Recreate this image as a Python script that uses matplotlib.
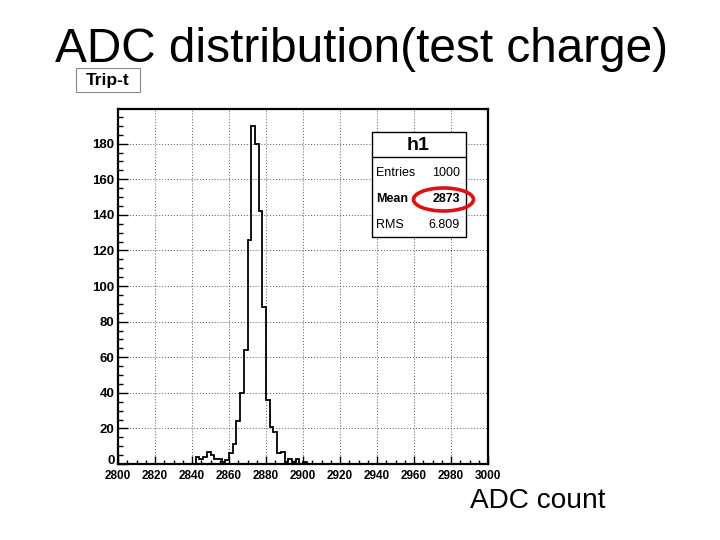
import matplotlib
matplotlib.use('Agg')
import matplotlib.pyplot as plt
import numpy as np
from matplotlib.patches import Rectangle, Ellipse
from matplotlib.lines import Line2D

# ---------------- data ----------------
x_min, x_max, bin_width = 2800, 3000, 2
first_filled_bin = 2842
counts = [4, 3, 4, 7, 5, 3, 3, 1, 2, 6,
          11, 24, 40, 64, 126, 190, 180, 142, 88, 36,
          21, 18, 6, 7, 1, 3, 1, 3, 0, 1]
x_ticks = [2800, 2820, 2840, 2860, 2880, 2900, 2920, 2940, 2960, 2980, 3000]
y_ticks = [0, 20, 40, 60, 80, 100, 120, 140, 160, 180]
y_max = 199.5
title_text = "ADC distribution(test charge)"
hist_title = "Trip-t"
stats_name = "h1"
stats_labels = ["Entries", "Mean", "RMS"]
stats_values = ["1000", "2873", "6.809"]
xlabel_text = "ADC count"

edges = np.arange(x_min, x_max + bin_width, bin_width)
values = np.zeros(len(edges) - 1)
start = (first_filled_bin - x_min) // bin_width
values[start:start + len(counts)] = counts

# ---------------- figure ----------------
W, H = 720, 540
fig = plt.figure(figsize=(7.2, 5.4), dpi=100)
fig.patch.set_facecolor('white')

def fx(x):
    return x / W

def fy(y):
    return 1 - y / H

ax = fig.add_axes([fx(118), fy(464), fx(488) - fx(118), fy(109) - fy(464)])
ax.stairs(values, edges, baseline=0, color='black', lw=1.3)
ax.set_xlim(x_min, x_max)
ax.set_ylim(0, y_max)
ax.set_xticks(x_ticks)
ax.set_yticks(y_ticks)
ax.set_xticks(np.arange(x_min, x_max + 1, 5), minor=True)
ax.set_yticks(np.arange(0, 200, 5), minor=True)
ax.grid(True, which='major', color='#555555', linestyle=(0, (1, 2)), lw=0.7)
ax.set_axisbelow(True)
ax.tick_params(which='both', direction='in', top=False, right=False, color='black')
ax.tick_params(which='major', axis='x', length=6, width=1)
ax.tick_params(which='minor', axis='x', length=3, width=1)
ax.tick_params(which='major', axis='y', length=7, width=1)
ax.tick_params(which='minor', axis='y', length=3.5, width=1)
ax.tick_params(axis='x', pad=4)
ax.tick_params(axis='y', pad=2.5)
for lab in ax.get_xticklabels():
    lab.set_fontfamily('Liberation Sans')
    lab.set_fontweight('bold')
    lab.set_fontsize(8.5)
ylabs = ax.get_yticklabels()
for lab in ylabs:
    lab.set_fontfamily('Liberation Sans')
    lab.set_fontweight('bold')
    lab.set_fontsize(9.5)
ylabs[0].set_verticalalignment('baseline')
for s in ax.spines.values():
    s.set_linewidth(1.6)
    s.set_color('black')

# ---------------- title ----------------
renderer = fig.canvas.get_renderer()
t = fig.text(fx(55), fy(62), title_text, fontsize=34, family='Liberation Sans',
             ha='left', va='baseline', color='black')
bb = t.get_window_extent(renderer)
t.set_fontsize(34 * 613 / bb.width)

# histogram title box
fig.patches.append(Rectangle((fx(76), fy(92)), fx(140) - fx(76), fy(68) - fy(92),
                             transform=fig.transFigure, facecolor='white',
                             edgecolor='#888888', lw=0.8))
fig.text(fx(108), fy(80), hist_title, fontsize=12.5, family='Liberation Sans',
         fontweight='bold', ha='center', va='center')

# ---------------- stats box ----------------
bx0, bx1, by0, by1 = 372, 466, 132, 237
fig.patches.append(Rectangle((fx(bx0), fy(by1)), fx(bx1) - fx(bx0), fy(by0) - fy(by1),
                             transform=fig.transFigure, facecolor='white',
                             edgecolor='black', lw=1.0, zorder=5))
fig.lines.append(Line2D([fx(bx0), fx(bx1)], [fy(157), fy(157)],
                        transform=fig.transFigure, color='black', lw=1.0, zorder=6))
fig.text(fx(418), fy(146), stats_name, fontsize=14, family='Liberation Sans',
         fontweight='bold', ha='center', va='center', zorder=7)
row_y = [173, 199.5, 225]
weights = ['normal', 'bold', 'normal']
for lab, val, yy, w in zip(stats_labels, stats_values, row_y, weights):
    fig.text(fx(376), fy(yy), lab, fontsize=9, family='Liberation Sans',
             fontweight=w, ha='left', va='center', zorder=7)
    fig.text(fx(460), fy(yy), val, fontsize=9, family='Liberation Sans',
             fontweight=w, ha='right', va='center', zorder=7)

fig.patches.append(Ellipse((fx(443.5), fy(199.5)), 60 / W, 23 / H,
                           transform=fig.transFigure, fill=False,
                           edgecolor='#e01010', lw=2.6, zorder=8))

# ---------------- x label ----------------
xl = fig.text(fx(470), fy(508), xlabel_text, fontsize=20, family='Liberation Sans',
              ha='left', va='baseline', color='black')
bb = xl.get_window_extent(renderer)
xl.set_fontsize(20 * 135 / bb.width)

fig.savefig('out.png', dpi=100, facecolor='white')
